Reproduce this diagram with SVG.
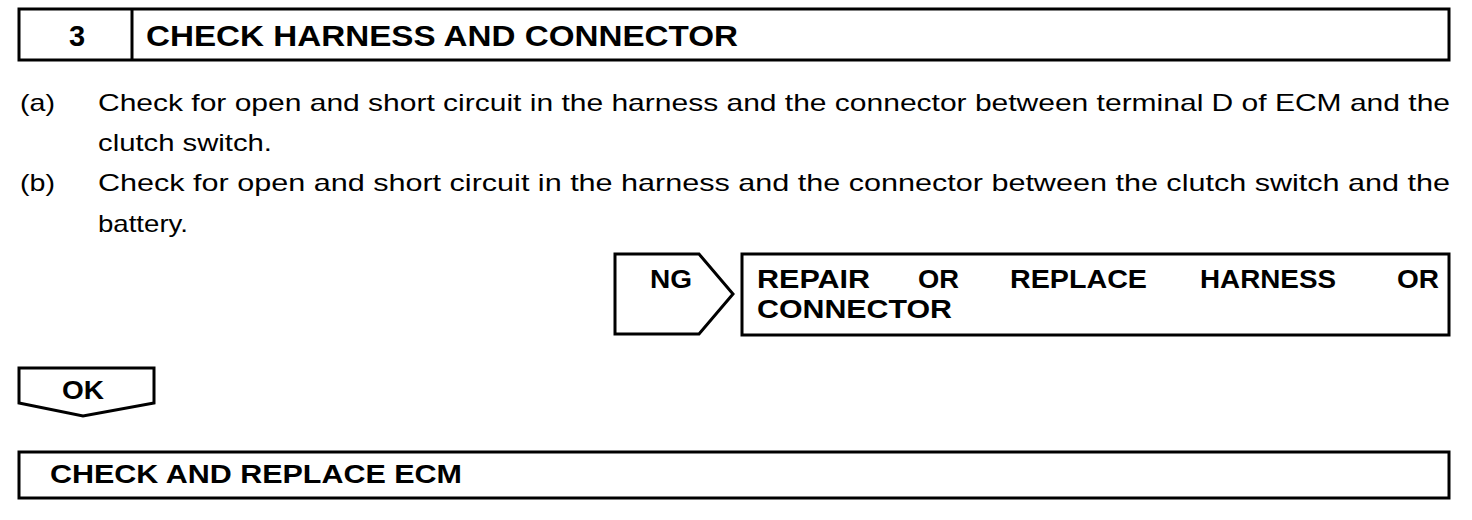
<svg xmlns="http://www.w3.org/2000/svg" width="1472" height="520" viewBox="0 0 1472 520">
<style>
.box{fill:none;stroke:#000;stroke-width:3;stroke-linejoin:miter}
.t{font-family:"Liberation Sans",Arial,Helvetica,sans-serif;fill:#000}
.b{font-weight:bold}
.hd{font-size:29px}
.bd{font-size:24px}
.lb{font-size:25px}
</style>
<rect width="1472" height="520" fill="#fff"/>
<g id="header">
<rect class="box" x="19" y="9" width="1430" height="51"/>
<line class="box" x1="132" y1="9" x2="132" y2="60"/>
<text class="t b hd" x="77" y="46" text-anchor="middle">3</text>
<text class="t b hd" x="146" y="46" textLength="592" lengthAdjust="spacingAndGlyphs">CHECK HARNESS AND CONNECTOR</text>
</g>
<g id="steps">
<text class="t bd" x="20" y="111" textLength="35" lengthAdjust="spacingAndGlyphs">(a)</text>
<text class="t bd" x="98" y="111" textLength="1352" lengthAdjust="spacingAndGlyphs">Check for open and short circuit in the harness and the connector between terminal D of ECM and the</text>
<text class="t bd" x="98" y="151" textLength="174" lengthAdjust="spacingAndGlyphs">clutch switch.</text>
<text class="t bd" x="20" y="191" textLength="35" lengthAdjust="spacingAndGlyphs">(b)</text>
<text class="t bd" x="98" y="191" textLength="1352" lengthAdjust="spacingAndGlyphs">Check for open and short circuit in the harness and the connector between the clutch switch and the</text>
<text class="t bd" x="98" y="232" textLength="90" lengthAdjust="spacingAndGlyphs">battery.</text>
</g>
<g id="ng">
<polygon class="box" points="615,254 699,254 733,294 699,334 615,334"/>
<text class="t b lb" x="650" y="288" textLength="42" lengthAdjust="spacingAndGlyphs">NG</text>
</g>
<g id="repair">
<rect class="box" x="742" y="254" width="707" height="81"/>
<text class="t b lb" x="757" y="288" textLength="113" lengthAdjust="spacingAndGlyphs">REPAIR</text>
<text class="t b lb" x="918" y="288" textLength="41" lengthAdjust="spacingAndGlyphs">OR</text>
<text class="t b lb" x="1010" y="288" textLength="137" lengthAdjust="spacingAndGlyphs">REPLACE</text>
<text class="t b lb" x="1200" y="288" textLength="136" lengthAdjust="spacingAndGlyphs">HARNESS</text>
<text class="t b lb" x="1397" y="288" textLength="42" lengthAdjust="spacingAndGlyphs">OR</text>
<text class="t b lb" x="757" y="318" textLength="195" lengthAdjust="spacingAndGlyphs">CONNECTOR</text>
</g>
<g id="ok">
<polygon class="box" points="19,368 154,368 154,403 83,416 19,403"/>
<text class="t b lb" x="62" y="399" textLength="42" lengthAdjust="spacingAndGlyphs">OK</text>
</g>
<g id="connectors"></g>
<g id="ecm">
<rect class="box" x="19" y="452" width="1430" height="46"/>
<text class="t b lb" x="50" y="483" textLength="412" lengthAdjust="spacingAndGlyphs">CHECK AND REPLACE ECM</text>
</g>
</svg>
